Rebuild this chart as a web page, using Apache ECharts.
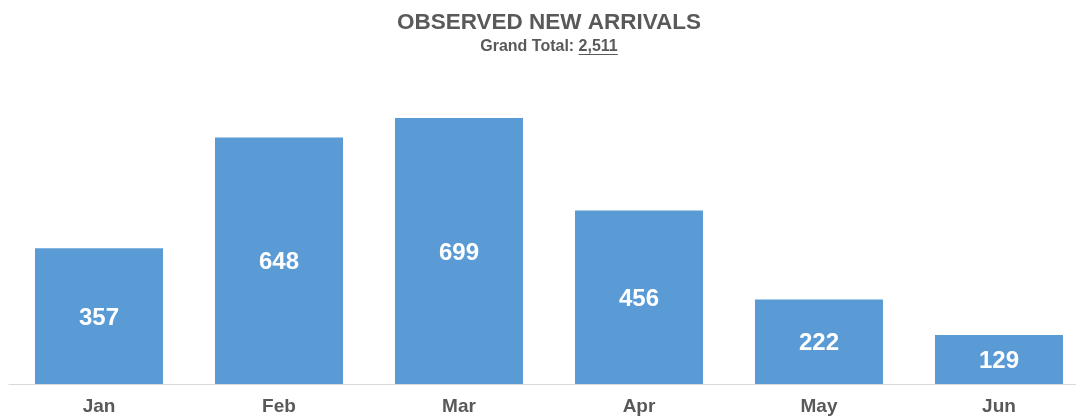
<!DOCTYPE html>
<html>
<head>
<meta charset="utf-8">
<script src="https://cdn.jsdelivr.net/npm/echarts@6/dist/echarts.min.js"></script>
<style>html,body{margin:0;padding:0;background:#fff;overflow:hidden;}#c{width:1089px;height:416px;}</style>
</head>
<body>
<div id="c"></div>
<script>
const categories = ['Jan', 'Feb', 'Mar', 'Apr', 'May', 'Jun'];
const arrivals = [357, 648, 699, 456, 222, 129];
const titleText = 'OBSERVED NEW ARRIVALS';
const subtitlePrefix = 'Grand Total: ';

const total = arrivals.reduce((a, b) => a + b, 0);
const totalText = total.toLocaleString('en-US');

const font = '"Liberation Sans", Arial, sans-serif';
const centerX = 549;

const ctx = document.createElement('canvas').getContext('2d');
ctx.font = 'bold 16px "Liberation Sans", Arial, sans-serif';
const wPre = ctx.measureText(subtitlePrefix).width;
const wTot = ctx.measureText(totalText).width;
const subLeft = centerX - (wPre + wTot) / 2;

const chart = echarts.init(document.getElementById('c'));
chart.setOption({
  animation: false,
  backgroundColor: '#ffffff',
  grid: { left: 9, top: 117.6, right: 0, bottom: 32, containLabel: false },
  xAxis: {
    type: 'category',
    data: categories,
    axisLine: { lineStyle: { color: '#D9D9D9', width: 1 } },
    axisTick: { show: false },
    axisLabel: { fontFamily: font, fontWeight: 'bold', fontSize: 19, color: '#595959', margin: 13 }
  },
  yAxis: {
    type: 'value', min: 0, max: 700,
    show: false,
    splitLine: { show: false }
  },
  series: [{
    type: 'bar',
    data: arrivals,
    barWidth: 128,
    itemStyle: { color: '#5B9BD5' },
    label: {
      show: true, position: 'inside', offset: [0, 2],
      fontFamily: font, fontWeight: 'bold', fontSize: 24, color: '#ffffff'
    }
  }],
  graphic: [
    {
      type: 'text', silent: true, x: centerX, y: 34,
      style: { text: titleText, fill: '#595959', font: 'bold 22.5px ' + font,
               textAlign: 'center', textVerticalAlign: 'bottom' }
    },
    {
      type: 'text', silent: true, x: subLeft, y: 54.5,
      style: { text: subtitlePrefix, fill: '#595959', font: 'bold 16px ' + font,
               textAlign: 'left', textVerticalAlign: 'bottom' }
    },
    {
      type: 'text', silent: true, x: subLeft + wPre, y: 54.5,
      style: { text: totalText, fill: '#595959', font: 'bold 16px ' + font,
               textAlign: 'left', textVerticalAlign: 'bottom' }
    },
    {
      type: 'line', silent: true,
      shape: { x1: subLeft + wPre, y1: 54.5, x2: subLeft + wPre + wTot, y2: 54.5 },
      style: { stroke: '#595959', lineWidth: 1 }
    }
  ]
});
</script>
</body>
</html>
